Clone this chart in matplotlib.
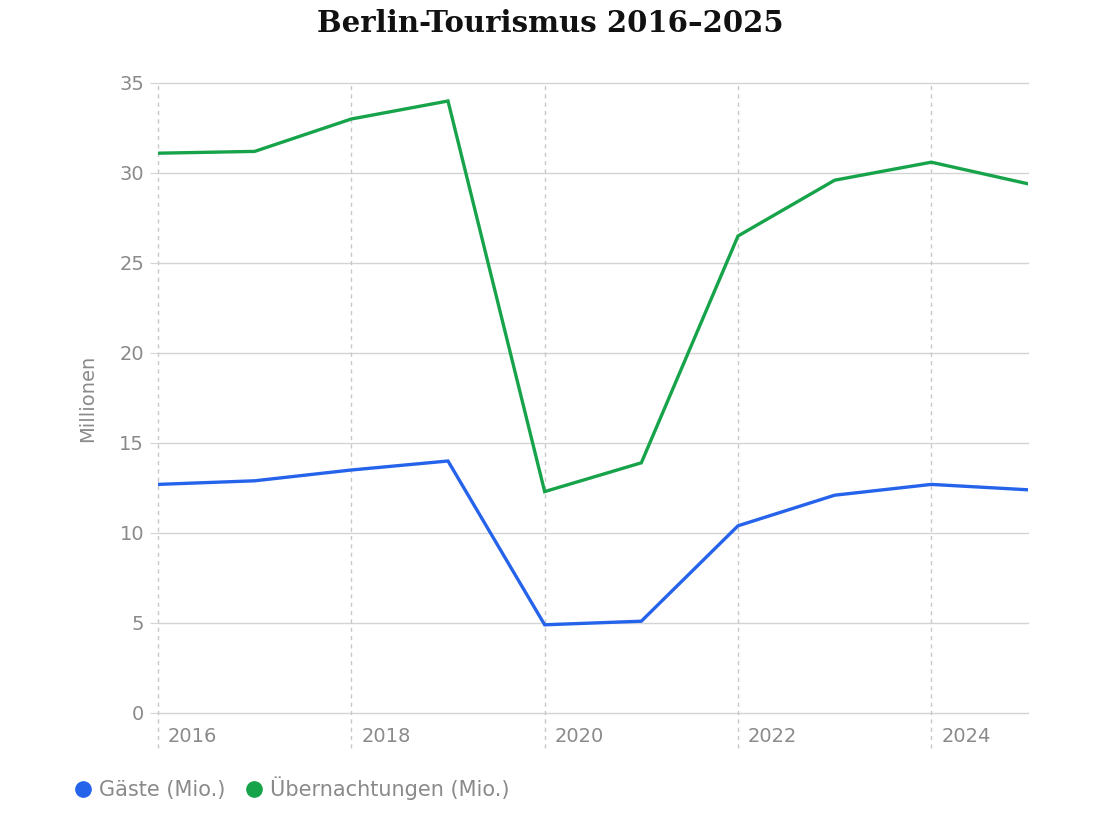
import matplotlib
matplotlib.use("Agg")
import matplotlib.pyplot as plt
import matplotlib.transforms as mtrans
from matplotlib.lines import Line2D

years = [2016, 2017, 2018, 2019, 2020, 2021, 2022, 2023, 2024, 2025]
gaeste = [12.7, 12.9, 13.5, 14.0, 4.9, 5.1, 10.4, 12.1, 12.7, 12.4]
uebernachtungen = [31.1, 31.2, 33.0, 34.0, 12.3, 13.9, 26.5, 29.6, 30.6, 29.4]
x_ticks = [2016, 2018, 2020, 2022, 2024]
y_ticks = [0, 5, 10, 15, 20, 25, 30, 35]
title = "Berlin-Tourismus 2016–2025"
series_labels = ["Gäste (Mio.)", "Übernachtungen (Mio.)"]
y_label = "Millionen"

blue = "#2563EB"
green = "#16A34A"
gray = "#8a8a8a"

fig = plt.figure(figsize=(11, 8.25), dpi=100)
ax = fig.add_axes([158/1100, 1-713/825, (1028-158)/1100, (713-83)/825])

ax.plot(years, gaeste, color=blue, lw=2.4, solid_joinstyle="miter", zorder=3)
ax.plot(years, uebernachtungen, color=green, lw=2.4, solid_joinstyle="miter", zorder=3)

ax.set_xlim(years[0], years[-1])
ax.set_ylim(0, 35)
ax.set_yticks(y_ticks)
ax.set_xticks(x_ticks)
ax.set_xticklabels([])

for s in ax.spines.values():
    s.set_visible(False)
ax.tick_params(axis="y", length=6, color="#d4d4d4", labelsize=14, labelcolor=gray, pad=4)
ax.tick_params(axis="x", length=0)

for v in y_ticks:
    ax.axhline(v, color="#d4d4d4", lw=1, zorder=1, clip_on=False)

trans = mtrans.blended_transform_factory(ax.transData, ax.transAxes)
offset = mtrans.ScaledTranslation(10/100, -24/100, fig.dpi_scale_trans)
for t in x_ticks:
    ax.plot([t, t], [-0.055, 1], transform=trans, color="#c8c8c8", lw=1,
            ls=(0, (3, 3)), clip_on=False, zorder=1)
    ax.text(t, 0, str(t), transform=trans + offset, ha="left", va="center",
            fontsize=14, color=gray)

ax.set_ylabel(y_label, color=gray, fontsize=14, labelpad=16)

fig.text(0.5, 1-23/825, title, ha="center", va="center",
         fontsize=21, fontweight="bold", family="DejaVu Serif", color="#111111")

handles = [Line2D([], [], ls="none", marker="o", ms=11, color=blue),
           Line2D([], [], ls="none", marker="o", ms=11, color=green)]
leg = fig.legend(handles, series_labels, loc="center left",
                 bbox_to_anchor=(52/1100, 1-788/825), ncol=2, frameon=False,
                 fontsize=15, handletextpad=0.15, columnspacing=0.8,
                 handlelength=1.2)
for t in leg.get_texts():
    t.set_color(gray)

fig.savefig("out.png", dpi=100)
